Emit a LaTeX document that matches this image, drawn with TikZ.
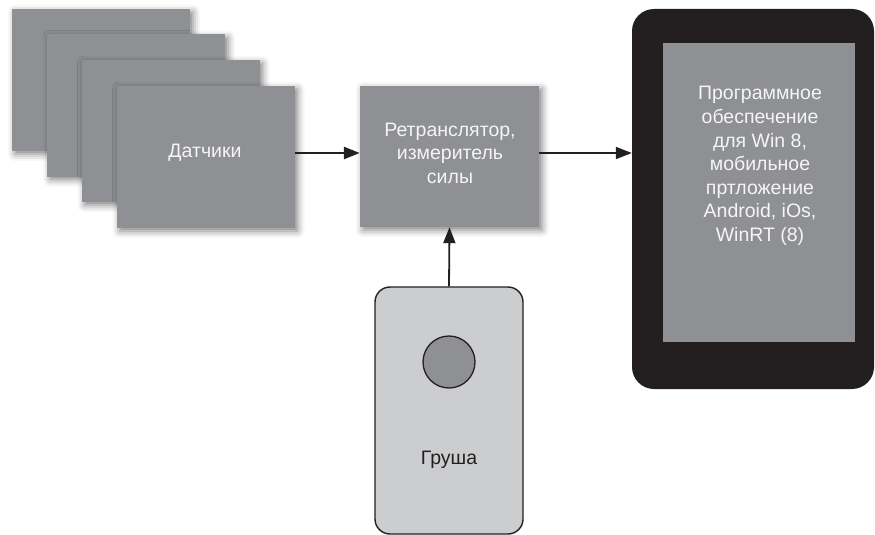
\documentclass[tikz,border=0pt]{standalone}
\usepackage{fontspec}
\setmainfont{Liberation Sans}
\usetikzlibrary{arrows.meta,shadows.blur}
\definecolor{boxgray}{RGB}{143,144,148}
\definecolor{darkbody}{RGB}{35,31,32}
\definecolor{peargray}{RGB}{204,205,207}
\definecolor{whitetext}{RGB}{245,245,245}
\tikzset{
  card/.style={fill=boxgray, draw=none, minimum width=178pt, minimum height=142pt, inner sep=0pt,
    blur shadow={shadow xshift=3pt, shadow yshift=-3pt, shadow blur radius=7pt, shadow opacity=50}},
  lbl/.style={text=whitetext, font=\fontsize{19.5}{23.6}\selectfont, align=center, inner sep=0pt},
  arr/.style={-{Triangle[length=16pt,width=12pt]}, line width=1.8pt, draw=darkbody},
}
\begin{document}
\begin{tikzpicture}[x=1pt,y=-1pt]
\useasboundingbox (0,0) rectangle (875,535);
% sensors stack
\node[card] (s1) at (101,80) {};
\node[card] (s2) at (136,105.5) {};
\node[card] (s3) at (170.5,131) {};
\node[card] (s4) at (205.5,157) {};
\node[lbl] (s4t) at (205,153) {Датчики};
% relay
\node[card, minimum width=179pt, minimum height=141pt] (relay) at (449.5,156.5) {};
\node[lbl] (relayt) at (450,153) {Ретранслятор,\\измеритель\\силы};
% tablet
\node[fill=darkbody, rounded corners=22pt, minimum width=242pt, minimum height=380pt, inner sep=0pt] (tablet) at (753,199) {};
\node[fill=boxgray, minimum width=192pt, minimum height=299pt, inner sep=0pt] (screen) at (759,192.5) {};
\node[lbl] (screent) at (760,166) {Программное\\обеспечение\\для Win 8,\\мобильное\\пртложение\\Android, iOs,\\WinRT (8)};
% pear
\node[fill=peargray, draw=darkbody, line width=1.4pt, rounded corners=15pt, minimum width=148pt, minimum height=247pt, inner sep=0pt] (pear) at (449,410.5) {};
\node[circle, fill=boxgray, draw=darkbody, line width=1.3pt, minimum size=52pt, inner sep=0pt] (button) at (449,362) {};
\node[lbl, text=darkbody] (peart) at (449,460) {Груша};
% connectors
\draw[arr, line width=2.6pt] ([yshift=4pt]s4.east) -- ([yshift=4pt]s4.east -| relay.west);
\draw[arr] ([yshift=3.5pt]relay.east) -- ([yshift=3.5pt]relay.east -| tablet.west);
\draw[arr] (pear.north) -- (relay.south);
\end{tikzpicture}
\end{document}
